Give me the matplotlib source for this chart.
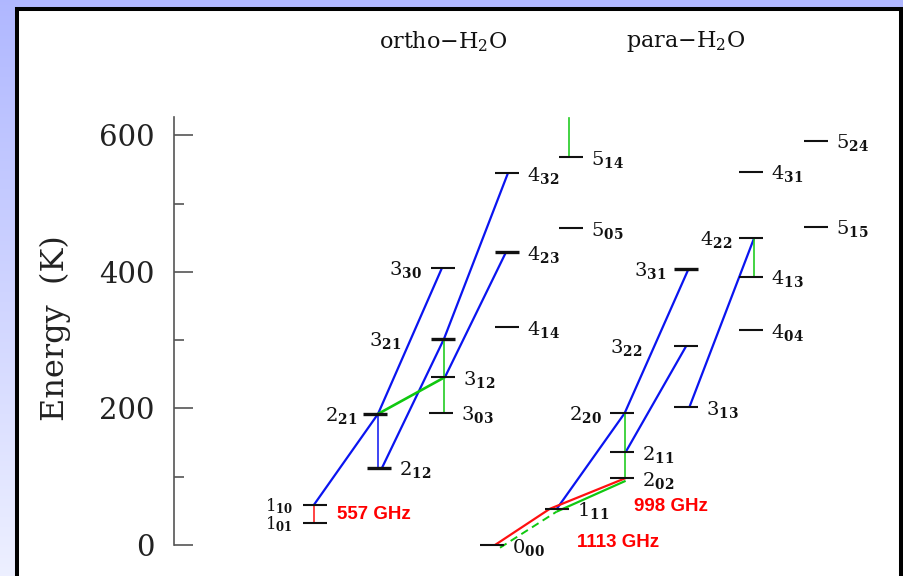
import numpy as np
import matplotlib
matplotlib.use('Agg')
import matplotlib.pyplot as plt
from matplotlib.patches import Rectangle

plt.rcParams['font.family'] = 'DejaVu Serif'
plt.rcParams['mathtext.fontset'] = 'dejavuserif'

# rotational levels of water, energies in K
ortho_levels = ['1_01', '1_10', '2_12', '2_21', '3_03', '3_12', '3_21', '3_30',
                '4_14', '4_23', '4_32', '5_05', '5_14']
ortho_energy = [32, 59, 113, 192, 194, 246, 302, 406, 319, 429, 545, 464, 568]
para_levels = ['0_00', '1_11', '2_02', '2_11', '2_20', '3_13', '3_22', '3_31',
               '4_04', '4_13', '4_22', '4_31', '5_15', '5_24']
para_energy = [0, 53, 98, 136, 193, 202, 292, 404, 315, 393, 450, 547, 466, 592]

# transitions (lower, upper)
blue_trans = [('1_10', '2_21'), ('2_21', '3_30'), ('2_12', '3_21'), ('3_21', '4_32'),
              ('3_12', '4_23'), ('1_11', '2_20'), ('2_20', '3_31'),
              ('2_11', '3_22'), ('3_13', '4_22')]
blue_vert = [('2_12', '2_21')]
green_trans = [('2_21', '3_12')]
green_vert = [('3_03', '3_21'), ('2_02', '2_20'), ('4_13', '4_22')]
green_pair = [('1_11', '2_02')]
green_dash_trans = [('0_00', '1_11')]
red_vert = [('1_01', '1_10')]
red_trans = [('0_00', '1_11'), ('1_11', '2_02')]
top_trans = ('5_14', 626)   # runs off the top of the plot

freq_labels = ['557 GHz', '998 GHz', '1113 GHz']
freq_energy = [45, 57, 3]

# ---- layout (x in pixel units) ----
half_w = 12
left_label = {'1_10': 10, '1_01': 10, '2_21': 6, '3_21': 30, '3_30': 9,
              '2_20': 8, '3_22': 32, '3_31': 8, '4_22': 7}
thick = ['2_21', '2_12', '3_21', '4_23', '3_31']
xshift = {'2_21': -4, '3_03': -2}
# where transition lines meet each level, relative to its centre
anchor = {'1_10': -1, '1_01': -1, '2_21': 3, '2_12': 3, '3_30': -1, '3_21': 1, '3_12': 2,
          '3_03': 4, '4_32': 1, '4_23': -1, '1_11': 0, '2_02': 4, '2_20': 3, '2_11': 4,
          '3_22': 0, '3_31': 2, '3_13': 3, '4_22': 3, '4_13': 5, '5_14': -2, '0_00': 8}

levels = {}
for n, e in zip(ortho_levels, ortho_energy):
    levels[n] = (251 + 64 * int(n[0]) + xshift.get(n, 0), e)
for n, e in zip(para_levels, para_energy):
    levels[n] = (492 + 64.8 * int(n[0]) + xshift.get(n, 0), e)

fig = plt.figure(figsize=(9.04, 5.76), dpi=100)

# lavender frame + white panel
bg = fig.add_axes([0, 0, 1, 1], zorder=0)
grad = np.linspace(0, 1, 256)[:, None]
top_c = np.array([0.69, 0.72, 1.0])
bot_c = np.array([0.93, 0.94, 1.0])
img = top_c[None, None, :] * (1 - grad[:, :, None]) + bot_c[None, None, :] * grad[:, :, None]
bg.imshow(img, extent=[0, 904, 576, 0], aspect='auto')
bg.add_patch(Rectangle((17, 9), 884, 600, facecolor='white', edgecolor='black', lw=2.9))
bg.set_xlim(0, 904)
bg.set_ylim(576, 0)
bg.axis('off')

ax = fig.add_axes([174 / 904, 31 / 576, 721 / 904, 428 / 576], zorder=1)
ax.patch.set_alpha(0)
ax.set_xlim(174, 895)
ax.set_ylim(0, 627)
for s in ['top', 'right', 'bottom']:
    ax.spines[s].set_visible(False)
ax.spines['left'].set_color('#555555')
ax.spines['left'].set_linewidth(1.2)
ax.set_xticks([])
ax.set_yticks([0, 200, 400, 600])
ax.set_yticks([100, 300, 500], minor=True)
ax.tick_params(axis='y', which='major', direction='in', length=14, width=1.2,
               color='#555555', labelsize=21, pad=14, labelcolor='#222222')
ax.tick_params(axis='y', which='minor', direction='in', length=7, width=1.2, color='#555555')
ax.set_ylabel('Energy  (K)', fontsize=23, color='#222222', va='center')
ax.yaxis.set_label_coords(-0.165, 0.507)


def pt(name, dx=None):
    x, e = levels[name]
    return x + (anchor.get(name, 0) if dx is None else dx), e


def draw(pairs, color, lw=1.5, ls='-', dx=(None, None), de=0, vertical=False):
    for lo, hi in pairs:
        x0, e0 = pt(lo, dx[0])
        x1, e1 = pt(hi, dx[1])
        if vertical:
            x0 = x1
        ax.plot([x0, x1], [e0 + de, e1 + de], color=color, lw=lw, ls=ls,
                clip_on=False, zorder=2, solid_capstyle='butt')


draw(blue_trans, '#0a14f0', lw=1.6)
draw(blue_vert, '#0a14f0', lw=1.1, vertical=True)
draw(green_trans, '#10c810', lw=1.9)
draw(green_vert, '#22cc22', lw=1.2, vertical=True)
draw(green_pair, '#10c810', lw=1.6, de=-4)
draw(green_dash_trans, '#10c810', lw=1.4, ls=(0, (4, 2.5)), de=-4)
draw(red_vert, '#ff1010', lw=1.1)
draw(red_trans[:1], '#ff1010', lw=1.6, dx=(3, -7))
draw(red_trans[1:], '#ff1010', lw=1.6, dx=(-7, 4))

x5, e5 = pt(top_trans[0])
ax.plot([x5, x5], [e5, top_trans[1]], color='#22cc22', lw=1.2, zorder=2)

# levels and their labels
for n, (x, e) in levels.items():
    lw = 2.4 if n in thick else 1.5
    ax.plot([x - half_w, x + half_w], [e, e], color='#111111', lw=lw,
            clip_on=False, zorder=3, solid_capstyle='butt')
    lab = r'$%s_{\mathbf{%s}}$' % (n[0], n[2:])
    fs = 12 if n in ('1_10', '1_01') else 14
    if n in left_label:
        ax.text(x - half_w - left_label[n], e - 2, lab, ha='right', va='center',
                fontsize=fs, color='#111111')
    else:
        ax.text(x + half_w + 8, e - 3, lab, ha='left', va='center',
                fontsize=14, color='#111111')

# frequency labels
freq_x = [337, 634, 577]
for s, x, e in zip(freq_labels, freq_x, freq_energy):
    ax.text(x, e, s, ha='left', va='center', fontsize=13.5, color='#ff0000',
            family='Liberation Sans', fontweight='bold')

ax.text(443, 738, r'ortho$-$H$_2$O', ha='center', va='center', fontsize=16, color='#111111')
ax.text(686, 738, r'para$-$H$_2$O', ha='center', va='center', fontsize=16, color='#111111')

fig.savefig('out.png', dpi=100)
